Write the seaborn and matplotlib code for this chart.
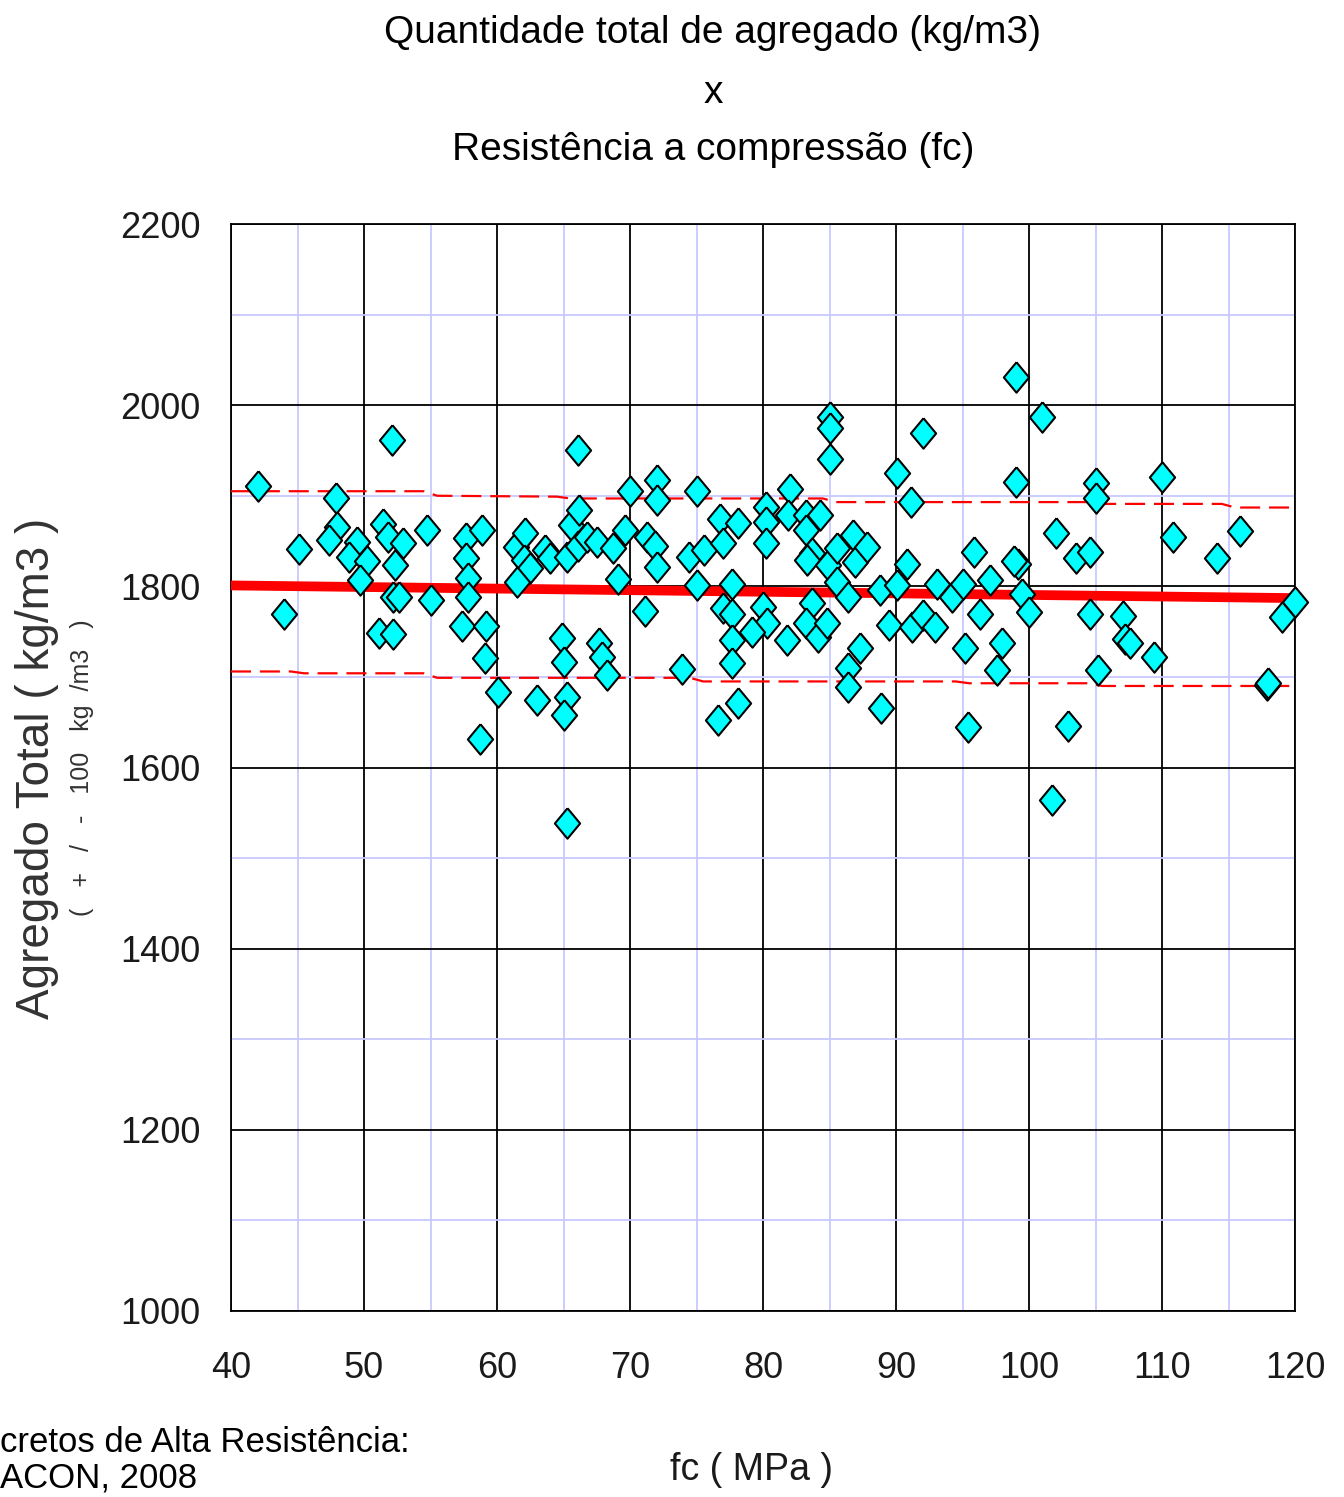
import matplotlib
matplotlib.use("Agg")
import matplotlib.pyplot as plt
import seaborn as sns
import numpy as np
import pandas as pd

# ---------------- data ----------------
fc = [42.0, 52.1, 47.9, 45.1, 48.0, 47.4, 49.5, 48.9, 50.2, 49.7, 44.0, 51.4, 51.8, 52.9, 52.3,
      54.7, 52.2, 52.6, 55.0, 51.1, 52.2, 57.7, 58.9, 57.7, 57.8, 57.8, 57.4, 59.2, 59.1, 60.1,
      58.7, 66.1, 61.4, 62.1, 62.0, 62.5, 61.5, 63.6, 64.0, 65.3, 65.6, 66.2, 66.1, 66.8, 67.5,
      68.7, 69.6, 70.0, 72.0, 72.0, 75.0, 71.3, 71.9, 72.0, 69.1, 71.1, 74.4, 75.6, 75.0, 76.8,
      77.0, 78.1, 77.7, 77.0, 77.7, 77.7, 77.7, 78.1, 76.6, 64.9, 65.0, 63.0, 65.3, 65.0, 67.7,
      67.9, 68.3, 73.9, 65.3, 85.0, 85.0, 85.0, 92.0, 90.1, 91.1, 82.0, 80.2, 80.2, 80.2, 81.9,
      83.2, 84.3, 83.2, 83.7, 83.3, 84.9, 85.6, 86.8, 86.9, 87.8, 85.6, 86.4, 83.7, 88.8, 90.8,
      90.1, 93.1, 94.2, 95.0, 97.1, 95.9, 96.3, 80.0, 80.3, 79.2, 83.2, 84.1, 84.8, 81.8, 87.3,
      86.4, 86.4, 88.9, 89.5, 91.2, 92.0, 92.9, 95.2, 95.4, 97.6, 99.0, 101.0, 99.0, 105.0, 105.0,
      110.0, 102.0, 103.5, 104.6, 110.8, 114.1, 115.9, 99.2, 99.5, 100.0, 104.6, 107.1, 107.2, 107.6,
      109.4, 98.0, 105.2, 102.9, 101.7, 117.9, 118.0, 120.0, 119.0, 98.9]
agregado = [1911, 1961, 1898, 1841, 1866, 1851, 1849, 1832, 1828, 1807, 1769, 1869, 1854, 1848, 1824,
            1862, 1788, 1788, 1785, 1748, 1747, 1853, 1862, 1831, 1809, 1788, 1756, 1756, 1721, 1683,
            1631, 1951, 1843, 1859, 1829, 1820, 1805, 1840, 1831, 1832, 1868, 1884, 1845, 1854, 1849,
            1842, 1862, 1905, 1917, 1895, 1905, 1854, 1845, 1821, 1808, 1773, 1832, 1840, 1801, 1874,
            1848, 1870, 1803, 1776, 1770, 1741, 1715, 1671, 1652, 1743, 1716, 1674, 1678, 1658, 1737,
            1722, 1702, 1709, 1539, 1987, 1975, 1941, 1969, 1925, 1893, 1908, 1888, 1871, 1848, 1879,
            1879, 1879, 1862, 1837, 1829, 1823, 1842, 1857, 1827, 1843, 1805, 1788, 1782, 1796, 1825,
            1801, 1803, 1788, 1803, 1807, 1838, 1770, 1777, 1760, 1750, 1760, 1744, 1760, 1741, 1732,
            1710, 1689, 1666, 1757, 1755, 1768, 1755, 1732, 1645, 1708, 2031, 1987, 1915, 1914, 1898,
            1921, 1859, 1831, 1838, 1854, 1831, 1861, 1825, 1792, 1772, 1769, 1767, 1742, 1737,
            1722, 1737, 1708, 1646, 1564, 1691, 1693, 1783, 1766, 1828]

trend_x = [40, 120]
trend_y = [1801, 1787]

upper_x = [40, 54.5, 55.5, 64.5, 65.5, 84.5, 85.5, 104.5, 105.5, 114.5, 115.5, 120]
upper_y = [1905, 1905, 1900, 1899, 1897, 1897, 1893, 1893, 1891, 1891, 1887, 1887]
lower_x = [40, 44.5, 45.5, 54.5, 55.5, 74.5, 75.5, 94.5, 95.5, 104.5, 105.5, 120]
lower_y = [1706, 1706, 1704, 1704, 1699, 1699, 1695, 1695, 1693, 1693, 1690, 1690]

x_ticks = [40, 50, 60, 70, 80, 90, 100, 110, 120]
y_ticks = [1000, 1200, 1400, 1600, 1800, 2000, 2200]

title_lines = ["Quantidade total de agregado (kg/m3)", "x", "Resistência a compressão (fc)"]
x_label = "fc ( MPa )"
y_label = "Agregado Total ( kg/m3 )"
y_sublabel = "(   +   /   -   100   kg  /m3   )"
source_lines = ["cretos de Alta Resistência:", "ACON, 2008"]

# ---------------- style ----------------
sns.set_style("white")
FONT = ["Liberation Sans", "DejaVu Sans"]
plt.rcParams["font.family"] = FONT
plt.rcParams["text.color"] = "black"

W, H = 1344, 1497
fig = plt.figure(figsize=(W / 100, H / 100), dpi=100)
fig.patch.set_facecolor("white")
ax = fig.add_axes([231 / W, 1 - 1311 / H, (1295 - 231) / W, (1311 - 224) / H])
ax.set_facecolor("white")

df = pd.DataFrame({"fc": fc, "agregado": agregado})

# lines
ax.plot(trend_x, trend_y, color="#ff0000", lw=7, solid_capstyle="butt", zorder=3)
ax.plot(upper_x, upper_y, color="#ff0000", lw=1.6, dashes=(9, 4), zorder=3)
ax.plot(lower_x, lower_y, color="#ff0000", lw=1.6, dashes=(9, 4), zorder=3)

diamond = [(0, 1), (0.83, 0), (0, -1), (-0.83, 0), (0, 1)]
sns.scatterplot(data=df, x="fc", y="agregado", marker=diamond, s=480,
                color="#00ffff", edgecolor="black", linewidth=1.5, ax=ax, zorder=4,
                legend=False, clip_on=False)

ax.set_xlim(40, 120)
ax.set_ylim(1000, 2200)
ax.set_xticks(x_ticks)
ax.set_yticks(y_ticks)
ax.set_xticks(np.arange(45, 120, 10), minor=True)
ax.set_yticks(np.arange(1100, 2200, 200), minor=True)
ax.grid(which="major", color="black", lw=1.3, zorder=1)
ax.grid(which="minor", color="#c8c8ff", lw=1.3, zorder=0)
ax.set_axisbelow(True)
ax.tick_params(which="major", direction="out", length=10, width=1.3, labelsize=26,
               colors="black", labelcolor="#1a1a1a", pad=12)
ax.tick_params(axis="x", pad=19)
ax.tick_params(which="minor", length=0)
for s in ax.spines.values():
    s.set_color("black")
    s.set_linewidth(1.3)
ax.set_xlabel("")
ax.set_ylabel("")

# titles and labels
cx = 713 / W
for txt, ypx in zip(title_lines, [33, 93, 150]):
    fig.text(cx, 1 - ypx / H, txt, ha="center", va="center", fontsize=28, color="black")
fig.text(752 / W, 1 - 1470 / H, x_label, ha="center", va="center", fontsize=27, color="#1a1a1a")
fig.text(37 / W, 1 - 768 / H, y_label, rotation=90, ha="center", va="center",
         fontsize=33, color="#333333")
fig.text(82 / W, 1 - 768 / H, y_sublabel, rotation=90, ha="center", va="center",
         fontsize=18, color="#333333")
fig.text(0, 1 - 1452 / H, source_lines[0], ha="left", va="baseline", fontsize=25, color="black")
fig.text(0, 1 - 1488 / H, source_lines[1], ha="left", va="baseline", fontsize=25, color="black")

fig.savefig("out.png", dpi=100, facecolor="white")
